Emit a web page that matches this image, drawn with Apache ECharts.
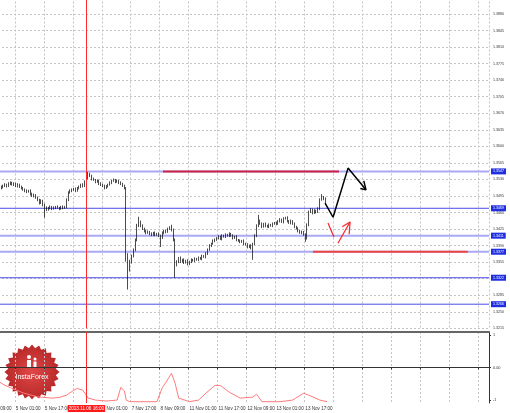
<!DOCTYPE html>
<html><head><meta charset="utf-8">
<script src="https://cdn.jsdelivr.net/npm/echarts@6/dist/echarts.min.js"></script>
<style>html,body{margin:0;padding:0;background:#fff}#c{width:510px;height:413px}</style>
</head><body><div id="c"></div>
<script>
// ---- data ----
const barCount = 278;           // hourly slots on the time axis (incl. empty future)
const firstDataBar = 8;         // index of first candle (4 Nov 17:00)
const open = [1.3512,1.3514,1.3516,1.3519,1.3516,1.3521,1.3523,1.3519,1.3521,1.3516,
1.3519,1.3514,1.3512,1.3508,1.3506,1.3504,1.3506,1.3499,1.3495,1.3497,
1.3491,1.3487,1.3480,1.3485,1.3476,1.3470,1.3466,1.3470,1.3472,1.3468,
1.3470,1.3472,1.3470,1.3468,1.3472,1.3470,1.3472,1.3487,1.3502,1.3506,
1.3508,1.3510,1.3506,1.3512,1.3514,1.3519,1.3516,1.3525,1.3533,1.3542,
1.3538,1.3531,1.3529,1.3525,1.3527,1.3521,1.3519,1.3516,1.3512,1.3516,
1.3519,1.3523,1.3527,1.3529,1.3525,1.3527,1.3523,1.3521,1.3516,1.3512,
1.3371,1.3339,1.3356,1.3368,1.3381,1.3402,1.3432,1.3440,1.3432,1.3426,
1.3421,1.3417,1.3419,1.3415,1.3413,1.3417,1.3413,1.3415,1.3411,1.3406,
1.3417,1.3421,1.3419,1.3426,1.3428,1.3423,1.3402,1.3349,1.3356,1.3364,
1.3356,1.3360,1.3354,1.3358,1.3351,1.3356,1.3360,1.3358,1.3362,1.3360,
1.3364,1.3362,1.3368,1.3366,1.3373,1.3381,1.3390,1.3394,1.3400,1.3402,
1.3406,1.3409,1.3404,1.3411,1.3409,1.3413,1.3411,1.3415,1.3411,1.3406,
1.3409,1.3402,1.3400,1.3398,1.3400,1.3394,1.3392,1.3387,1.3390,1.3385,
1.3394,1.3411,1.3432,1.3442,1.3436,1.3430,1.3436,1.3432,1.3430,1.3434,
1.3432,1.3436,1.3438,1.3436,1.3442,1.3445,1.3440,1.3447,1.3449,1.3442,
1.3438,1.3442,1.3436,1.3430,1.3426,1.3421,1.3417,1.3419,1.3413,1.3406,
1.3434,1.3461,1.3466,1.3459,1.3464,1.3461,1.3468,1.3487,1.3493,1.3489];
const close = [1.3514,1.3516,1.3519,1.3516,1.3521,1.3523,1.3519,1.3521,1.3516,1.3519,
1.3514,1.3512,1.3508,1.3506,1.3504,1.3506,1.3499,1.3495,1.3497,1.3491,
1.3487,1.3480,1.3485,1.3476,1.3470,1.3466,1.3470,1.3472,1.3468,1.3470,
1.3472,1.3470,1.3468,1.3472,1.3470,1.3472,1.3487,1.3502,1.3506,1.3508,
1.3510,1.3506,1.3512,1.3514,1.3519,1.3516,1.3525,1.3533,1.3542,1.3538,
1.3531,1.3529,1.3525,1.3527,1.3521,1.3519,1.3516,1.3512,1.3516,1.3519,
1.3523,1.3527,1.3529,1.3525,1.3527,1.3523,1.3521,1.3516,1.3512,1.3371,
1.3339,1.3356,1.3368,1.3381,1.3402,1.3432,1.3440,1.3432,1.3426,1.3421,
1.3417,1.3419,1.3415,1.3413,1.3417,1.3413,1.3415,1.3411,1.3406,1.3417,
1.3421,1.3419,1.3426,1.3428,1.3423,1.3402,1.3349,1.3356,1.3364,1.3356,
1.3360,1.3354,1.3358,1.3351,1.3356,1.3360,1.3358,1.3362,1.3360,1.3364,
1.3362,1.3368,1.3366,1.3373,1.3381,1.3390,1.3394,1.3400,1.3402,1.3406,
1.3409,1.3404,1.3411,1.3409,1.3413,1.3411,1.3415,1.3411,1.3406,1.3409,
1.3402,1.3400,1.3398,1.3400,1.3394,1.3392,1.3387,1.3390,1.3385,1.3394,
1.3411,1.3432,1.3442,1.3436,1.3430,1.3436,1.3432,1.3430,1.3434,1.3432,
1.3436,1.3438,1.3436,1.3442,1.3445,1.3440,1.3447,1.3449,1.3442,1.3438,
1.3442,1.3436,1.3430,1.3426,1.3421,1.3417,1.3419,1.3413,1.3406,1.3434,
1.3461,1.3466,1.3459,1.3464,1.3461,1.3468,1.3487,1.3493,1.3489,1.3483];
const low = [1.3509,1.3511,1.3514,1.3513,1.3514,1.3518,1.3517,1.3516,1.3514,1.3513,
1.3512,1.3509,1.3506,1.3503,1.3501,1.3502,1.3496,1.3493,1.3492,1.3489,
1.3484,1.3477,1.3478,1.3473,1.3449,1.3463,1.3464,1.3467,1.3465,1.3466,
1.3467,1.3468,1.3465,1.3466,1.3467,1.3468,1.3469,1.3484,1.3500,1.3503,
1.3506,1.3503,1.3504,1.3509,1.3512,1.3513,1.3514,1.3522,1.3530,1.3535,
1.3528,1.3527,1.3522,1.3523,1.3518,1.3516,1.3514,1.3509,1.3510,1.3513,
1.3517,1.3520,1.3525,1.3522,1.3523,1.3520,1.3518,1.3514,1.3509,1.3356,
1.3297,1.3335,1.3352,1.3365,1.3378,1.3399,1.3429,1.3429,1.3423,1.3418,
1.3414,1.3415,1.3412,1.3410,1.3411,1.3410,1.3411,1.3408,1.3387,1.3404,
1.3414,1.3416,1.3417,1.3423,1.3420,1.3399,1.3322,1.3346,1.3353,1.3353,
1.3354,1.3351,1.3352,1.3348,1.3349,1.3353,1.3356,1.3355,1.3358,1.3357,
1.3360,1.3359,1.3364,1.3363,1.3370,1.3379,1.3387,1.3392,1.3397,1.3400,
1.3403,1.3402,1.3401,1.3407,1.3406,1.3409,1.3408,1.3409,1.3403,1.3404,
1.3399,1.3398,1.3395,1.3396,1.3391,1.3390,1.3384,1.3385,1.3382,1.3360,
1.3391,1.3408,1.3429,1.3434,1.3427,1.3428,1.3429,1.3428,1.3427,1.3430,
1.3429,1.3434,1.3433,1.3434,1.3439,1.3438,1.3437,1.3445,1.3439,1.3436,
1.3435,1.3434,1.3427,1.3424,1.3418,1.3415,1.3414,1.3411,1.3398,1.3403,
1.3431,1.3459,1.3456,1.3457,1.3458,1.3459,1.3465,1.3485,1.3486,1.3480];
const high = [1.3517,1.3519,1.3522,1.3521,1.3524,1.3526,1.3525,1.3524,1.3523,1.3522,
1.3521,1.3517,1.3514,1.3511,1.3509,1.3508,1.3509,1.3502,1.3500,1.3499,
1.3494,1.3489,1.3488,1.3487,1.3479,1.3473,1.3472,1.3475,1.3474,1.3473,
1.3474,1.3475,1.3472,1.3474,1.3475,1.3474,1.3490,1.3505,1.3509,1.3511,
1.3512,1.3513,1.3514,1.3517,1.3521,1.3522,1.3528,1.3535,1.3546,1.3544,
1.3540,1.3534,1.3531,1.3530,1.3529,1.3524,1.3521,1.3519,1.3518,1.3521,
1.3526,1.3529,1.3532,1.3531,1.3530,1.3529,1.3526,1.3523,1.3519,1.3514,
1.3374,1.3360,1.3371,1.3384,1.3405,1.3436,1.3451,1.3443,1.3435,1.3428,
1.3424,1.3422,1.3421,1.3418,1.3419,1.3420,1.3417,1.3418,1.3413,1.3420,
1.3423,1.3424,1.3428,1.3431,1.3434,1.3426,1.3405,1.3359,1.3366,1.3367,
1.3362,1.3363,1.3360,1.3361,1.3358,1.3363,1.3362,1.3365,1.3364,1.3367,
1.3366,1.3371,1.3370,1.3376,1.3384,1.3393,1.3396,1.3403,1.3405,1.3408,
1.3412,1.3411,1.3414,1.3413,1.3416,1.3415,1.3418,1.3417,1.3414,1.3411,
1.3412,1.3404,1.3403,1.3402,1.3403,1.3396,1.3395,1.3392,1.3393,1.3396,
1.3414,1.3435,1.3455,1.3445,1.3439,1.3438,1.3439,1.3434,1.3437,1.3436,
1.3439,1.3440,1.3441,1.3444,1.3448,1.3447,1.3450,1.3451,1.3452,1.3444,
1.3445,1.3444,1.3439,1.3432,1.3429,1.3423,1.3422,1.3421,1.3416,1.3437,
1.3464,1.3469,1.3468,1.3467,1.3466,1.3471,1.3490,1.3499,1.3495,1.3492];

// indicator pane: [bar index, value]
const indicatorPts = [[7,-0.45],[10,-0.55],[13,-0.62],[20,-0.78],[28,-0.9],[36,-0.94],[40,-0.92],
[44,-0.85],[48,-0.7],[50,-0.64],[53,-0.7],[56,-0.94],[60,-1.0],[66,-1.03],[72,-1.0],
[74,-0.61],[76,-0.72],[77,-1.0],[79,-1.05],[94,-1.05],[97,-0.61],[99,-0.45],[102,-0.18],
[104,-0.48],[106,-0.94],[112,-1.05],[117,-1.0],[121,-0.79],[126,-0.55],[129,-0.55],
[134,-0.76],[140,-0.94],[147,-0.91],[149,-0.82],[150,-0.85],[152,-1.05],[162,-1.05],
[169,-1.0],[175,-0.79],[178,-0.85],[184,-1.0],[188,-1.05]];

// price axis
const priceMin = 1.3215, priceMax = 1.3915, priceStep = 0.0035;
const indTicks = [-1, 0, 1];

// horizontal support / resistance levels (full width)
const levelPrices = [1.3547, 1.3469, 1.3411, 1.3377, 1.3322, 1.3266];
const levelIsLight = [true, false, true, true, false, false];

// red partial levels: price, from bar, to bar
const redLevelPrice = [1.3547, 1.3377];
const redLevelFrom = [97.3, 180.2];
const redLevelTo = [194.6, 265.8];

// projection arrows [bar index, price]
const projBlack = [[186.9,1.3480],[191.3,1.3450],[199.6,1.3554],[209.5,1.3508]];
const projBlackHead = [[206.4,1.3511],[209.5,1.3508],[208.3,1.3527]];
const projRed1 = [[188.5,1.3438],[191.8,1.3408]];
const projRed2 = [[194.0,1.3395],[200.7,1.3440]];
const projRedHead = [[196.4,1.3430],[200.7,1.3440],[200.2,1.3414]];

// crosshair
const crossIndex = 55;
const crossLabel = '2013.11.06 16:00';

// ---- categories (hourly bars, weekends skipped) ----
const lastDataBar = firstDataBar + close.length - 1;
const months = ['Jan','Feb','Mar','Apr','May','Jun','Jul','Aug','Sep','Oct','Nov','Dec'];
const categories = [];
(function(){
  let t = Date.UTC(2013, 10, 4, 9);
  while (categories.length < barCount) {
    const d = new Date(t), wd = d.getUTCDay();
    if (wd !== 0 && wd !== 6) {
      const h = d.getUTCHours();
      categories.push(d.getUTCDate() + ' ' + months[d.getUTCMonth()] + ' ' + (h < 10 ? '0' : '') + h + ':00');
    }
    t += 3600000;
  }
})();

const candleData = close.map((c, k) => [firstDataBar + k, open[k], c, low[k], high[k]]);

const FONT = 'Liberation Sans';
const chart = echarts.init(document.getElementById('c'), null, {renderer: 'canvas'});

const GL = -14, GW = 503;
const dashed = {show: true, interval: 15, lineStyle: {color: '#c4c4c4', type: [2, 2], width: 1}};

// logo star points
const logoPts = [];
for (let k = 0; k < 48; k++) {
  const a = k / 48 * Math.PI * 2, r = k % 2 ? 24 : 27.5;
  logoPts.push([Math.cos(a) * r, Math.sin(a) * r]);
}

const annLine = (data, color, width, z) => ({
  type: 'line', xAxisIndex: 3, yAxisIndex: 0, data, symbol: 'none', silent: true,
  lineStyle: {color, width}, z: z || 5, animation: false
});

const levelSeries = levelPrices.map((p, k) => ({
  type: 'line', xAxisIndex: 3, yAxisIndex: 0, symbol: 'none', silent: true, animation: false, z: 2,
  data: [[-0.5, p], [barCount - 0.5, p]],
  lineStyle: levelIsLight[k] ? {color: '#a9a9f5', width: 2} : {color: '#4a4ae8', width: 1},
  endLabel: {show: true, distance: 2, formatter: p.toFixed(4),
             backgroundColor: '#1f2fe0', color: '#ffffff', fontSize: 3.6, padding: [1, 2, 1, 2], fontFamily: FONT}
}));

chart.setOption({
  animation: false,
  backgroundColor: '#ffffff',
  textStyle: {fontFamily: FONT},
  grid: [
    {left: GL, width: GW, top: -2.5, height: 330.8, outerBoundsMode: 'none', containLabel: false},
    {left: GL, width: GW, top: 332, height: 71, outerBoundsMode: 'none', containLabel: false}
  ],
  xAxis: [
    {type: 'category', gridIndex: 0, data: categories, boundaryGap: true,
     axisLine: {show: false}, axisTick: {show: false}, axisLabel: {show: false}, splitLine: dashed},
    {type: 'category', gridIndex: 1, data: categories, boundaryGap: true, position: 'bottom',
     axisLine: {show: true, lineStyle: {color: '#333', width: 1}},
     axisTick: {show: true, interval: 15, length: 2, lineStyle: {color: '#333'}},
     axisLabel: {show: true, interval: 15, align: 'left', fontSize: 4.6, margin: 3, color: '#333', fontFamily: FONT,
                 formatter: (v, idx) => (idx > lastDataBar ? '' : v)},
     splitLine: dashed},
    {type: 'category', gridIndex: 1, data: categories, boundaryGap: true, position: 'top',
     axisLine: {show: true, lineStyle: {color: '#666', width: 2}},
     axisTick: {show: false}, axisLabel: {show: false}, splitLine: {show: false}},
    {type: 'value', gridIndex: 0, min: -0.5, max: barCount - 0.5, show: false}
  ],
  yAxis: [
    {type: 'value', gridIndex: 0, position: 'right', min: priceMin, max: priceMax, interval: priceStep,
     axisLine: {show: true, lineStyle: {color: '#333', width: 1}},
     axisTick: {show: true, length: 2, lineStyle: {color: '#333'}},
     axisLabel: {show: true, fontSize: 3.6, color: '#333', margin: 4, showMaxLabel: false,
                 formatter: v => v.toFixed(4), fontFamily: FONT},
     splitLine: {show: true, lineStyle: {color: '#c4c4c4', type: [2, 2], width: 1}}},
    {type: 'value', gridIndex: 1, position: 'right', min: -1.09, max: 1.09,
     axisLine: {show: true, lineStyle: {color: '#333', width: 1}},
     axisTick: {show: true, length: 2, customValues: indTicks, lineStyle: {color: '#333'}},
     axisLabel: {show: true, fontSize: 3.8, color: '#333', margin: 4, customValues: indTicks,
                 formatter: v => (v === 0 ? '0.00' : String(v)), fontFamily: FONT},
     splitLine: {show: false}}
  ],
  series: levelSeries.concat([
    {
      type: 'candlestick', xAxisIndex: 0, yAxisIndex: 0, data: candleData,
      encode: {x: 0, y: [1, 2, 3, 4]},
      barWidth: 1.1,
      itemStyle: {color: '#ffffff', color0: '#000000', borderColor: '#000000', borderColor0: '#000000', borderWidth: 0.7},
      z: 4,
      markLine: {
        silent: true, symbol: ['none', 'none'], animation: false,
        data: [{xAxis: crossIndex, lineStyle: {color: '#ff2a2a', width: 1, type: 'solid'}, label: {show: false}}]
      }
    },
    annLine([[redLevelFrom[0], redLevelPrice[0]], [redLevelTo[0], redLevelPrice[0]]], '#cc2244', 2, 6),
    annLine([[redLevelFrom[1], redLevelPrice[1]], [redLevelTo[1], redLevelPrice[1]]], '#ee4444', 2, 6),
    annLine(projBlack, '#000000', 1.5, 7),
    annLine(projBlackHead, '#000000', 1.5, 7),
    annLine(projRed1, '#ff2222', 1.2, 7),
    annLine(projRed2, '#ff2222', 1.2, 7),
    annLine(projRedHead, '#ff2222', 1.2, 7),
    {
      type: 'line', xAxisIndex: 1, yAxisIndex: 1, data: indicatorPts, symbol: 'none', silent: true,
      lineStyle: {color: '#ff7a7a', width: 1}, z: 3, animation: false,
      markLine: {
        silent: true, symbol: ['none', 'none'], animation: false,
        data: [{xAxis: crossIndex, lineStyle: {color: '#ff2a2a', width: 1, type: 'solid'},
          label: {show: true, position: 'start', distance: 2, formatter: crossLabel,
                  backgroundColor: '#ff1a1a', color: '#ffffff', fontSize: 4.6, padding: [1, 1, 1, 1], fontFamily: FONT}}]
      }
    }
  ]),
  graphic: [{
    type: 'group', x: 32, y: 372, z: 100,
    children: [
      {type: 'polygon', shape: {points: logoPts},
       style: {fill: new echarts.graphic.RadialGradient(0.5, 0.5, 0.5, [{offset: 0, color: '#e04848'}, {offset: 1, color: '#b82828'}])}},
      {type: 'circle', shape: {cx: -3, cy: -15, r: 2}, style: {fill: '#fff'}},
      {type: 'rect', shape: {x: -5, y: -12, width: 4, height: 8}, style: {fill: '#fff'}},
      {type: 'circle', shape: {cx: 3, cy: -13, r: 1.5}, style: {fill: '#fff'}},
      {type: 'rect', shape: {x: 1.5, y: -10.5, width: 3, height: 6.5}, style: {fill: '#fff'}},
      {type: 'text', x: 0, y: 5, style: {text: 'InstaForex', fill: '#fff', font: '7px "Liberation Sans"', align: 'center', verticalAlign: 'middle'}}
    ]
  }]
});
</script></body></html>
